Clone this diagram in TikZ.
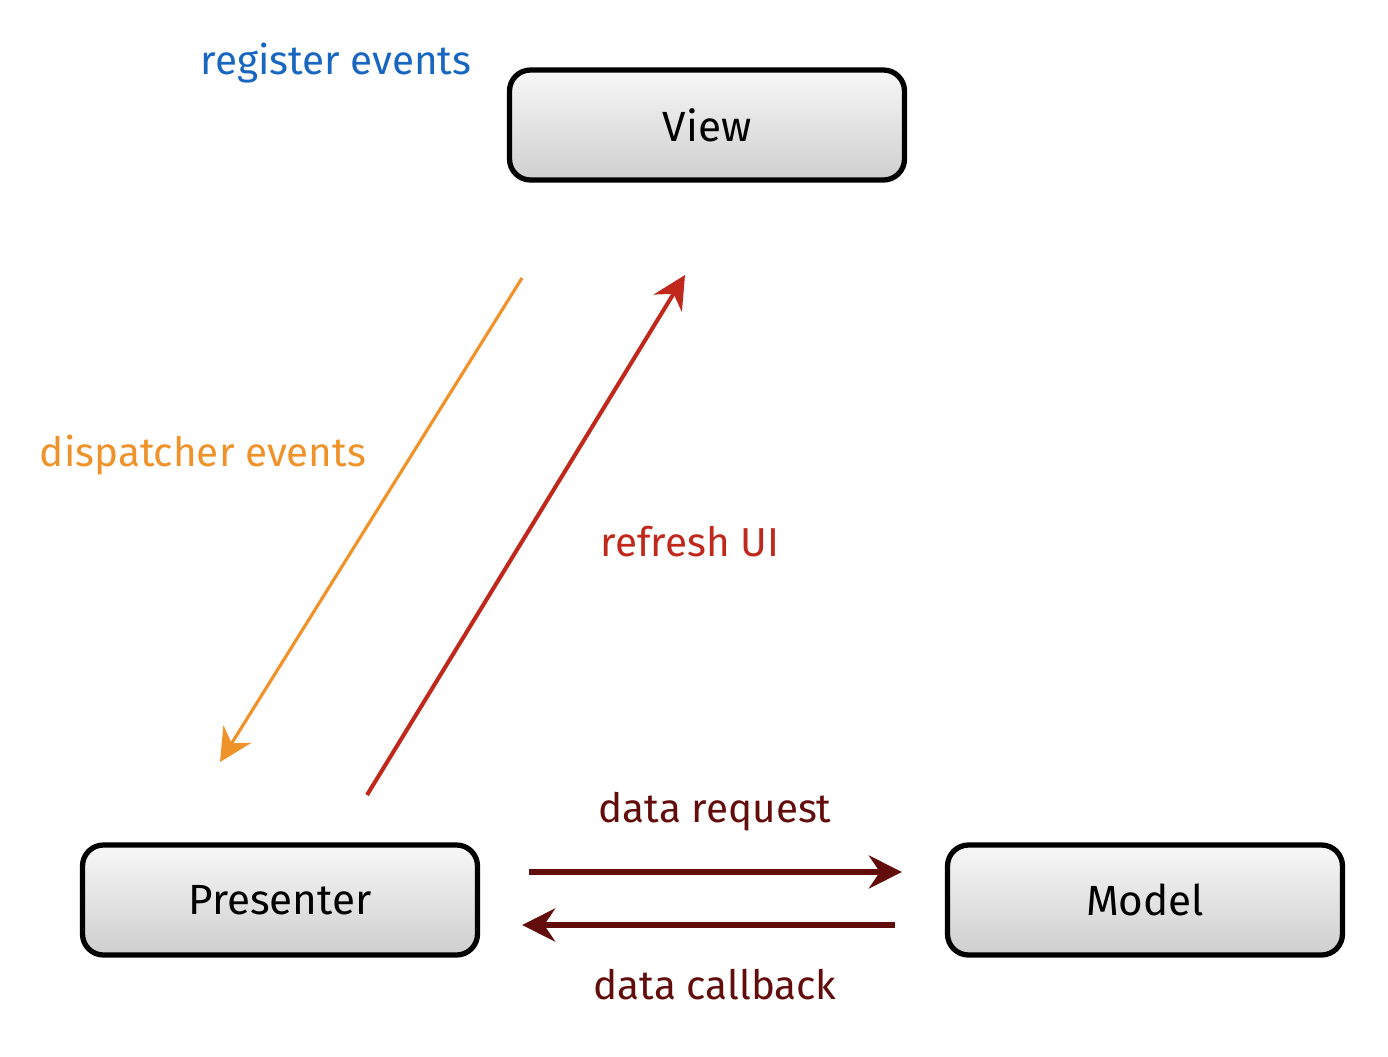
\documentclass[tikz,border=0pt]{standalone}
\usepackage{fontspec}
\setmainfont{Fira Sans}
\usetikzlibrary{positioning,arrows.meta}
\definecolor{cblue}{RGB}{24,102,192}
\definecolor{corange}{RGB}{240,146,42}
\definecolor{cred}{RGB}{192,40,28}
\definecolor{cmaroon}{RGB}{98,12,12}

\begin{document}
\begin{tikzpicture}[
    part/.style={draw=black, rounded corners=0.42cm, minimum width=7.9cm, minimum height=2.2cm,
                 line width=3pt, top color=gray!6, bottom color=gray!38,
                 font=\fontsize{24}{28}\selectfont},
    note/.style={font=\fontsize{23}{27}\selectfont},
    flow/.style={-{Stealth[length=0.66cm,width=0.66cm,inset=0.22cm]}}
  ]
  \useasboundingbox (0,0) rectangle (27.76,-21.12);

  \node[part] (view) at (14.14,-2.5) {View};
  \node[part] (pres) at (5.6,-18.0) {Presenter};
  \node[part] (model) at (22.9,-18.0) {Model};

  \node[note, text=cblue] (reg) at (6.72,-1.26) {register events};
  \node[note, text=corange] (disp) at (4.06,-9.1) {dispatcher events};
  \node[note, text=cred] (refresh) at (13.8,-10.84) {refresh UI};
  \node[note, text=cmaroon] (req) at ([xshift=4.7cm,yshift=1.76cm]pres.east) {data request};
  \node[note, text=cmaroon] (cb) at ([xshift=4.7cm,yshift=-1.7cm]pres.east) {data callback};

  \coordinate (dtop) at (10.44,-5.56);
  \coordinate (dbot) at (4.4,-15.24);
  \coordinate (rbot) at (7.34,-15.9);
  \coordinate (rtop) at (13.7,-5.5);

  \draw[flow, line width=1.8pt, corange] (dtop) -- (dbot);
  \draw[flow, line width=2.3pt, cred] (rbot) -- (rtop);
  \draw[flow, line width=3pt, cmaroon, shorten <=0.98cm, shorten >=0.86cm]
    ([yshift=0.56cm]pres.east) -- ([yshift=0.56cm]model.west);
  \draw[flow, line width=3pt, cmaroon, shorten <=1cm, shorten >=0.84cm]
    ([yshift=-0.5cm]model.west) -- ([yshift=-0.5cm]pres.east);
\end{tikzpicture}
\end{document}
